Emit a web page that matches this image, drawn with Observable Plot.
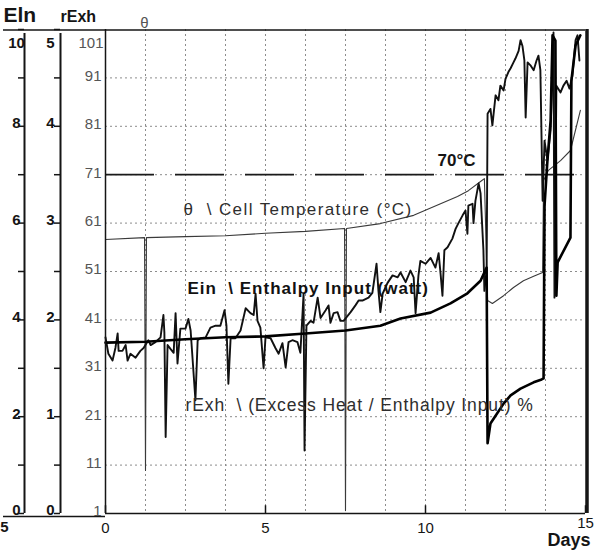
<!DOCTYPE html>
<html><head><meta charset="utf-8">
<script src="https://cdn.jsdelivr.net/npm/d3@7"></script>
<script src="https://cdn.jsdelivr.net/npm/@observablehq/plot@0.6"></script>
<style>
body{margin:0;background:#fff;}
#chart svg{font-family:"Liberation Sans",Arial,sans-serif;display:block;}
</style></head><body><div id="chart"></div><script>
// ---- data ----
const thetaDays = [0,1.22,1.25,1.28,2.5,3.75,5,6.25,7.47,7.5,7.53,8.59,9.63,10.47,11,11.34,11.72,11.84,11.94,12.09,12.44,12.75,13.06,13.38,13.66,13.69,13.84,14.22,14.53,14.84];
const thetaVals = [57.6,58,9.9,58,58.2,58.4,58.9,59.3,59.9,1.6,59.9,60.9,62.6,65,66.5,67.7,69.6,70.2,45,44.4,46,47.7,49.1,50,50.8,69.8,71.9,73.9,76,84.3];

const einDays = [0,1.25,2.5,3.75,5,6.25,7.5,8.59,9.22,10.16,10.78,11.31,11.72,11.91,11.94,12.03,12.19,12.44,12.66,12.97,13.38,13.63,13.69,13.72,13.81,13.91,13.97,14.06,14.09,14.13,14.53,14.56,14.69,14.84];
const einVals = [3.53,3.55,3.6,3.64,3.66,3.72,3.78,3.88,4.03,4.15,4.34,4.55,4.81,5.08,1.45,1.86,2.02,2.27,2.44,2.58,2.71,2.77,2.79,6.36,7.29,8.12,9.88,9.77,4.5,5.19,5.7,8.95,9.67,9.88];

const rexhDays = [0,0.09,0.22,0.31,0.38,0.41,0.53,0.63,0.69,0.78,0.94,1.09,1.19,1.34,1.41,1.56,1.72,1.81,1.84,1.88,1.94,2.03,2.13,2.19,2.25,2.34,2.5,2.59,2.66,2.81,2.88,2.97,3.13,3.28,3.44,3.59,3.72,3.78,3.84,3.91,4.06,4.22,4.31,4.38,4.53,4.63,4.69,4.75,4.84,4.94,5,5.16,5.31,5.41,5.53,5.63,5.72,5.84,6,6.09,6.19,6.22,6.28,6.41,6.5,6.63,6.72,6.88,6.97,7.03,7.13,7.25,7.34,7.44,7.66,7.81,7.91,8.03,8.22,8.34,8.47,8.53,8.59,8.66,8.81,8.97,9.13,9.22,9.38,9.53,9.63,9.69,9.78,9.84,10,10.16,10.31,10.41,10.47,10.53,10.59,10.69,10.84,10.94,11.03,11.16,11.25,11.31,11.34,11.47,11.5,11.56,11.66,11.72,11.81,11.84,11.91,11.94,12.03,12.09,12.19,12.28,12.34,12.44,12.5,12.59,12.66,12.75,12.81,12.91,12.97,13.03,13.09,13.13,13.19,13.28,13.38,13.47,13.53,13.59,13.66,13.72,13.81,13.91,14,14.03,14.09,14.22,14.31,14.41,14.5,14.59,14.69,14.75,14.81];
const rexhVals = [1.82,1.65,1.58,1.71,1.86,1.68,1.68,1.74,1.58,1.65,1.61,1.68,1.71,1.79,1.74,1.77,1.82,2.05,1.87,0.79,1.74,1.7,1.66,2.07,1.55,1.91,1.91,2.01,1.89,1.17,1.79,1.81,1.82,1.92,1.94,1.94,2.1,1.94,1.34,1.81,1.81,1.89,2.02,2.12,2.07,2.05,2.27,1.99,1.92,1.5,1.82,1.81,1.71,1.65,1.76,1.51,1.77,1.79,1.77,1.66,2.27,0.65,1.94,1.99,1.97,2.23,2.02,2.1,2.15,1.97,2.07,2.08,1.99,1.99,2.08,2.15,2.2,2.2,2.23,2.28,2.58,2.3,2.08,2.27,2.38,2.46,2.44,2.49,2.39,2.51,2.44,2.07,2.46,2.61,2.58,2.64,2.54,2.69,2.48,2.25,2.72,2.75,2.84,2.94,3,3.08,3.13,2.89,3.18,3.2,3,3.23,3.41,3.31,2.72,2.3,2.51,4.13,4.18,4.01,4.32,4.27,4.42,4.37,4.49,4.56,4.6,4.66,4.7,4.78,4.89,4.83,4.68,4.09,4.66,4.63,4.58,4.68,4.73,4.58,3.23,3.85,3.65,3.96,4.97,2.23,4.42,4.35,4.42,4.47,4.39,4.52,4.89,4.94,4.68];

const thetaTicks = [1,11,21,31,41,51,61,71,81,91,101];
const einTicks = [0,1,2,3,4,5,6,7,8,9,10];
const einLabels = [0,2,4,6,8,10];
const rexhTicks = [0,0.5,1,1.5,2,2.5,3,3.5,4,4.5,5];
const rexhLabels = [0,1,2,3,4,5];
const dayTicks = [0,5,10,15];
const dayGrid = [1.25,2.5,3.75,5,6.25,7.5,8.75,10,11.25,12.5,13.75];
const limitTemp = 71;

const labels = {
  theta: "θ  \\ Cell Temperature (°C)",
  ein: "Ein  \\ Enthalpy Input (watt)",
  rexh: "rExh  \\ (Excess Heat / Enthalpy Input) %",
  limit: "70°C"
};

// ---- conversion to the θ scale (shared plotting scale) ----
const fromEin = v => 1 + 10 * v;
const fromRexh = v => 1 + 20 * v;
const thetaData = thetaDays.map((d, i) => ({day: d, v: thetaVals[i]}));
const einData = einDays.map((d, i) => ({day: d, v: einVals[i]}));
const rexhData = rexhDays.map((d, i) => ({day: d, v: rexhVals[i]}));

const yTop = thetaTicks[thetaTicks.length - 1];
const ink = "#151515";

const chart = Plot.plot({
  width: 599, height: 552,
  marginLeft: 105, marginRight: 14, marginTop: 29, marginBottom: 39,
  x: {domain: [0, 15]},
  y: {domain: [1, 101]},
  style: {background: "#fff", color: ink, fontFamily: "'Liberation Sans', Arial, sans-serif", fontSize: "14px"},
  marks: [
    Plot.gridX(dayGrid, {stroke: "#8c8c8c", strokeOpacity: 1, strokeDasharray: "2,3"}),
    Plot.gridY(thetaTicks.slice(1, -1), {stroke: "#8c8c8c", strokeOpacity: 1, strokeDasharray: "2,3"}),
    Plot.ruleY([limitTemp], {stroke: "#1a1a1a", strokeWidth: 1.8, strokeDasharray: "49,21"}),
    Plot.line(thetaData, {x: "day", y: "v", stroke: "#3a3a3a", strokeWidth: 1.1}),
    Plot.line(rexhData, {x: "day", y: d => fromRexh(d.v), stroke: "#111", strokeWidth: 1.9}),
    Plot.line(einData, {x: "day", y: d => fromEin(d.v), stroke: "#000", strokeWidth: 2.6}),
    // frame
    Plot.ruleX([0], {stroke: ink, strokeWidth: 1.5}),
    Plot.ruleX([15], {stroke: ink, strokeWidth: 3.5, dx: 1.5}),
    Plot.ruleY([yTop], {stroke: ink, strokeWidth: 1.5, insetLeft: -102, dy: 0.5}),
    Plot.ruleY([1], {stroke: ink, strokeWidth: 1.5}),
    Plot.ruleY([1], {stroke: ink, strokeWidth: 1.5, insetLeft: -102, insetRight: 480, dy: 3}),
    // left axes lines
    Plot.ruleX([0], {dx: -81, y1: 1, y2: yTop, insetBottom: -4, stroke: ink, strokeWidth: 2}),
    Plot.ruleX([0], {dx: -45, y1: 1, y2: yTop, insetBottom: -4, stroke: ink, strokeWidth: 2}),
    // Ein axis
    Plot.axisY(einTicks.map(fromEin), {anchor: "left", dx: -81, tickSize: 6, fill: "none", stroke: ink, strokeWidth: 1.5, label: null}),
    Plot.axisY(einLabels.slice(0, -1).map(fromEin), {anchor: "left", dx: -80, tickSize: 0, tickPadding: 9, stroke: "none", dy: -3,
      tickFormat: d => Math.round((d - 1) / 10), textAnchor: "middle", fontWeight: "bold", fontSize: 15, fill: ink, label: null}),
    Plot.axisY(einLabels.slice(-1).map(fromEin), {anchor: "left", dx: -80, tickSize: 0, tickPadding: 9, stroke: "none", dy: 14,
      tickFormat: d => Math.round((d - 1) / 10), textAnchor: "middle", fontWeight: "bold", fontSize: 15, fill: ink, label: null}),
    // rExh axis
    Plot.axisY(rexhTicks.map(fromRexh), {anchor: "left", dx: -45, tickSize: 6, fill: "none", stroke: ink, strokeWidth: 1.5, label: null}),
    Plot.axisY(rexhLabels.slice(0, -1).map(fromRexh), {anchor: "left", dx: -46, tickSize: 0, tickPadding: 9, stroke: "none", dy: -3,
      tickFormat: d => Math.round((d - 1) / 20), textAnchor: "middle", fontWeight: "bold", fontSize: 15, fill: ink, label: null}),
    Plot.axisY(rexhLabels.slice(-1).map(fromRexh), {anchor: "left", dx: -46, tickSize: 0, tickPadding: 9, stroke: "none", dy: 14,
      tickFormat: d => Math.round((d - 1) / 20), textAnchor: "middle", fontWeight: "bold", fontSize: 15, fill: ink, label: null}),
    // θ axis
    Plot.axisY(thetaTicks.slice(0, -1), {anchor: "left", tickSize: 0, tickPadding: 4, dy: -2, fontSize: 15, fill: "#555", stroke: "none", label: null}),
    Plot.axisY(thetaTicks.slice(-1), {anchor: "left", tickSize: 0, tickPadding: 2, dy: 14, fontSize: 15, fill: "#555", stroke: "none", label: null}),
    // x axis
    Plot.axisX(dayTicks.slice(0, -1), {anchor: "bottom", tickSize: 0, tickPadding: 9, fontSize: 15, fill: ink, label: null}),
    Plot.axisX(dayTicks.slice(-1), {anchor: "bottom", tickSize: 0, tickPadding: 4, fontSize: 15, fill: ink, label: null}),
    Plot.ruleX(dayTicks, {y1: 1, y2: 2.6, stroke: ink, strokeWidth: 1.5}),
    // headers
    Plot.text(["Eln"], {frameAnchor: "top-left", dx: -102, dy: -14, lineAnchor: "middle", textAnchor: "start", fontWeight: "bold", fontSize: 21, fill: ink}),
    Plot.text(["rExh"], {frameAnchor: "top-left", dx: -45, dy: -13, lineAnchor: "middle", textAnchor: "start", fontWeight: "bold", fontSize: 16, fill: ink}),
    Plot.text(["θ"], {frameAnchor: "top-left", dx: 39, dy: -6, lineAnchor: "middle", textAnchor: "middle", fontSize: 15, fill: "#555"}),
    Plot.text(["Days"], {frameAnchor: "bottom-right", dx: 5, dy: 27, lineAnchor: "middle", textAnchor: "end", fontWeight: "bold", fontSize: 18, fill: ink}),
    Plot.text(["5"], {frameAnchor: "bottom-left", dx: -101, dy: 14, lineAnchor: "middle", textAnchor: "middle", fontWeight: "bold", fontSize: 15, fill: ink}),
    // series labels
    Plot.text([labels.limit], {x: 10.375, y: 74, textAnchor: "start", fontWeight: "bold", fontSize: 17, fill: ink}),
    Plot.text([labels.theta], {x: 2.44, y: 63.8, textAnchor: "start", fontSize: 17, fill: "#2e2e2e"}),
    Plot.text([labels.ein], {x: 2.56, y: 47.5, textAnchor: "start", fontWeight: "bold", fontSize: 17, fill: "#111"}),
    Plot.text([labels.rexh], {x: 2.5, y: 23.3, textAnchor: "start", fontSize: 17.5, fill: "#2e2e2e"})
  ]
});
document.getElementById("chart").appendChild(chart);
// widen the scanned-looking annotation text slightly
d3.select(chart).selectAll("text").each(function() {
  const t = this.textContent;
  if (t === labels.theta) this.setAttribute("letter-spacing", "1.4");
  else if (t === labels.ein) this.setAttribute("letter-spacing", "1");
  else if (t === labels.rexh) this.setAttribute("letter-spacing", "0.9");
});
</script></body></html>
